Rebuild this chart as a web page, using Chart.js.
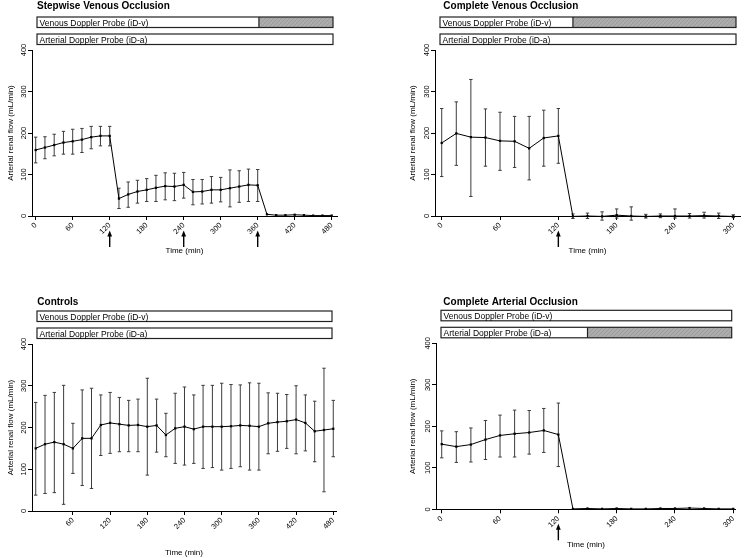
<!DOCTYPE html>
<html><head><meta charset="utf-8">
<script src="https://cdn.jsdelivr.net/npm/chart.js@4.4.1/dist/chart.umd.min.js"></script>
<style>
html,body{margin:0;padding:0;background:#fff;}
#wrap{position:relative;width:745px;height:558px;overflow:hidden;background:#fff;}
canvas{position:absolute;}
</style></head>
<body><div id="wrap">
<canvas id="c1" width="372" height="279" style="left:0px;top:0px;width:372px;height:279px"></canvas>
<canvas id="c2" width="345" height="279" style="left:400px;top:0px;width:345px;height:279px"></canvas>
<canvas id="c3" width="372" height="268" style="left:0px;top:290px;width:372px;height:268px"></canvas>
<canvas id="c4" width="345" height="268" style="left:400px;top:290px;width:345px;height:268px"></canvas>
</div>
<script>
const FONT = "'Liberation Sans', Arial, Helvetica, sans-serif";

// ---- shared labels ----
const yTicks = [0, 100, 200, 300, 400];
const yTitle = 'Arterial renal flow (mL/min)';
const xTitle = 'Time (min)';
const venousLabel = 'Venous Doppler Probe (iD-v)';
const arterialLabel = 'Arterial Doppler Probe (iD-a)';

// ---- Panel 1: Stepwise Venous Occlusion ----
const p1Title = 'Stepwise Venous Occlusion';
const p1Times = [0,15,30,45,60,75,90,105,120,135,150,165,180,195,210,225,240,255,270,285,300,315,330,345,360,375,390,405,420,435,450,465,480];
const p1Mean  = [159,165,171,177,180,184,190,193,193,42,52,59,63,68,72,71,75,58,59,63,63,67,71,75,74,4,2,2,3,2,1,1,1];
const p1Upper = [190,191,197,204,209,211,216,216,216,67,82,86,90,98,104,103,105,88,88,95,93,111,109,113,112,6,3,3,5,3,2,2,2];
const p1Lower = [128,138,145,149,149,153,162,169,169,18,21,31,35,35,39,37,43,27,29,31,34,22,33,35,35,2,1,1,1,1,0,0,0];
const p1XTicks = [0,60,120,180,240,300,360,420,480];
const p1Arrows = [120, 240, 360];
const p1VenousOcc = 362;
const p1ArterialOcc = null;

// ---- Panel 2: Complete Venous Occlusion ----
const p2Title = 'Complete Venous Occlusion';
const p2Times = [0,15,30,45,60,75,90,105,120,135,150,165,180,195,210,225,240,255,270,285,300];
const p2Mean  = [176,199,190,189,181,180,163,188,193,-1,0,-1,2,0,-1,0,0,0,1,0,-1];
const p2Upper = [259,275,329,258,250,240,240,255,259,5,7,10,17,22,4,5,17,6,9,7,3];
const p2Lower = [95,122,47,120,110,117,87,120,127,-6,-6,-10,-5,-10,-5,-4,-5,-5,-5,-6,-4];
const p2XTicks = [0,60,120,180,240,300];
const p2Arrows = [120];
const p2VenousOcc = 135;
const p2ArterialOcc = null;

// ---- Panel 3: Controls ----
const p3Title = 'Controls';
const p3Times = [0,15,30,45,60,75,90,105,120,135,150,165,180,195,210,225,240,255,270,285,300,315,330,345,360,375,390,405,420,435,450,465,480];
const p3Mean  = [150,160,165,160,150,174,174,206,211,208,205,206,202,205,182,198,202,196,202,202,202,203,205,204,202,210,213,215,219,211,191,194,197];
const p3Upper = [260,277,284,301,210,290,294,278,284,272,265,268,318,268,234,282,297,278,301,301,306,303,302,307,306,283,282,279,300,278,263,342,265];
const p3Lower = [38,42,44,16,90,61,54,133,138,142,142,142,86,141,130,114,110,114,102,104,98,102,106,98,98,137,143,150,137,144,118,46,130];
const p3XTicks = [60,120,180,240,300,360,420,480];
const p3Arrows = [];
const p3VenousOcc = null;
const p3ArterialOcc = null;

// ---- Panel 4: Complete Arterial Occlusion ----
const p4Title = 'Complete Arterial Occlusion';
const p4Times = [0,15,30,45,60,75,90,105,120,135,150,165,180,195,210,225,240,255,270,285,300];
const p4Mean  = [157,151,156,168,178,182,185,190,180,1,2,1,2,1,1,2,2,3,2,1,1];
const p4Upper = [189,187,196,214,227,239,238,243,256,1,2,1,2,1,1,2,2,3,2,1,1];
const p4Lower = [124,113,114,120,126,126,133,137,103,1,2,1,2,1,1,2,2,3,2,1,1];
const p4XTicks = [0,60,120,180,240,300];
const p4Arrows = [120];
const p4VenousOcc = null;
const p4ArterialOcc = 150;

// hatch pattern
function makeHatch(ctx) {
  const c = document.createElement('canvas');
  c.width = 4; c.height = 4;
  const g = c.getContext('2d');
  g.fillStyle = '#acacac'; g.fillRect(0, 0, 4, 4);
  g.strokeStyle = '#9c9c9c'; g.lineWidth = 1;
  g.beginPath(); g.moveTo(0, 4); g.lineTo(4, 0); g.stroke();
  return ctx.createPattern(c, 'repeat');
}

function makeChart(id, o) {
  const decor = {
    id: 'decor',
    beforeDatasetsDraw(chart) {
      const ctx = chart.ctx, xs = chart.scales.x, ys = chart.scales.y;
      ctx.save();
      ctx.strokeStyle = '#3c3c3c'; ctx.lineWidth = 1;
      o.times.forEach((t, i) => {
        const x = xs.getPixelForValue(t);
        const yu = ys.getPixelForValue(o.upper[i]);
        const yl = ys.getPixelForValue(o.lower[i]);
        if (Math.abs(yl - yu) < 2) return;
        ctx.beginPath();
        ctx.moveTo(x, yu); ctx.lineTo(x, yl);
        ctx.moveTo(x - 1.7, yu); ctx.lineTo(x + 1.7, yu);
        ctx.moveTo(x - 1.7, yl); ctx.lineTo(x + 1.7, yl);
        ctx.stroke();
      });
      ctx.restore();
    },
    afterDraw(chart) {
      const ctx = chart.ctx, xs = chart.scales.x, ca = chart.chartArea;
      ctx.save();
      // title
      ctx.fillStyle = '#000';
      ctx.font = 'bold 10px ' + FONT;
      ctx.textBaseline = 'alphabetic'; ctx.textAlign = 'left';
      ctx.fillText(o.title, o.titleX, o.titleY);
      // probe bars
      const bl = ca.left + 5, br = ca.right - 4, bh = 10.5;
      const hatch = makeHatch(ctx);
      const bar = (top, label, occ) => {
        ctx.fillStyle = '#fff';
        ctx.fillRect(bl, top, br - bl, bh);
        if (occ !== null) {
          const hx = xs.getPixelForValue(occ);
          ctx.fillStyle = hatch;
          ctx.fillRect(hx, top, br - hx, bh);
          ctx.strokeStyle = '#222'; ctx.lineWidth = 1.2;
          ctx.beginPath(); ctx.moveTo(hx, top); ctx.lineTo(hx, top + bh); ctx.stroke();
        }
        ctx.strokeStyle = '#222'; ctx.lineWidth = 1.2;
        ctx.strokeRect(bl, top, br - bl, bh);
        ctx.fillStyle = '#000';
        ctx.font = '8.5px ' + FONT;
        ctx.fillText(label, bl + 2.6, top + 8.6);
      };
      bar(ca.top - 33, venousLabel, o.venousOcc);
      bar(ca.top - 16, arterialLabel, o.arterialOcc);
      // arrows
      ctx.fillStyle = '#000'; ctx.strokeStyle = '#000'; ctx.lineWidth = 1.4;
      o.arrows.forEach(t => {
        const x = xs.getPixelForValue(t);
        const y0 = ca.bottom + 14.5, y1 = ca.bottom + 31;
        ctx.beginPath(); ctx.moveTo(x, y0 + 4); ctx.lineTo(x, y1); ctx.stroke();
        ctx.beginPath(); ctx.moveTo(x, y0); ctx.lineTo(x - 2.4, y0 + 6); ctx.lineTo(x + 2.4, y0 + 6); ctx.closePath(); ctx.fill();
      });
      ctx.restore();
    }
  };

  return new Chart(document.getElementById(id), {
    type: 'line',
    data: {
      datasets: [{
        data: o.times.map((t, i) => ({ x: t, y: o.mean[i] })),
        borderColor: '#000', borderWidth: 1, tension: 0,
        pointStyle: 'rect', pointRadius: 1.6, pointBackgroundColor: '#000', pointBorderColor: '#000', pointBorderWidth: 0,
        clip: false
      }]
    },
    options: {
      responsive: false, animation: false, events: [],
      layout: { autoPadding: false, padding: { left: 0, right: o.padR, top: o.padT, bottom: o.padB } },
      plugins: { legend: { display: false }, tooltip: { enabled: false }, title: { display: false } },
      scales: {
        x: {
          type: 'linear', min: o.xmin, max: o.xmax,
          afterBuildTicks: s => { s.ticks = o.xTicks.map(v => ({ value: v })); },
          afterFit: s => { s.height = o.xH; s.paddingLeft = 0; s.paddingRight = 0; },
          grid: { drawOnChartArea: false, drawTicks: true, tickLength: 4, color: '#000', lineWidth: 1 },
          border: { display: true, color: '#000', width: 1 },
          ticks: { autoSkip: false, minRotation: 45, maxRotation: 45, padding: 1, color: '#000', font: { family: FONT, size: 7.5 } },
          title: { display: true, text: xTitle, color: '#000', font: { family: FONT, size: 8 }, padding: { top: 0, bottom: 0 } }
        },
        y: {
          type: 'linear', min: 0, max: 400,
          afterBuildTicks: s => { s.ticks = yTicks.map(v => ({ value: v })); },
          afterFit: s => { s.width = o.yW; s.paddingTop = 0; s.paddingBottom = 0; },
          grid: { drawOnChartArea: false, drawTicks: true, tickLength: 4, color: '#000', lineWidth: 1 },
          border: { display: true, color: '#000', width: 1 },
          ticks: { minRotation: 90, maxRotation: 90, crossAlign: 'center', padding: -1.75, color: '#000', font: { family: FONT, size: 7.5 } },
          title: { display: true, text: yTitle, color: '#000', font: { family: FONT, size: 8 }, padding: { top: o.yTitlePad, bottom: 0 } }
        }
      }
    },
    plugins: [decor]
  });
}

makeChart('c1', { title: p1Title, titleX: 37, titleY: 8.5, times: p1Times, mean: p1Mean, upper: p1Upper, lower: p1Lower,
  xTicks: p1XTicks, arrows: p1Arrows, venousOcc: p1VenousOcc, arterialOcc: p1ArterialOcc,
  xmin: -6.0, xmax: 488.6, padR: 35, padT: 50, padB: 23.5, xH: 39.5, yW: 32, yTitlePad: 6.2 });
makeChart('c2', { title: p2Title, titleX: 43.3, titleY: 8.5, times: p2Times, mean: p2Mean, upper: p2Upper, lower: p2Lower,
  xTicks: p2XTicks, arrows: p2Arrows, venousOcc: p2VenousOcc, arterialOcc: p2ArterialOcc,
  xmin: -6.9, xmax: 306.9, padR: 5, padT: 50, padB: 23.5, xH: 39.5, yW: 35, yTitlePad: 7.9 });
makeChart('c3', { title: p3Title, titleX: 37.3, titleY: 15, times: p3Times, mean: p3Mean, upper: p3Upper, lower: p3Lower,
  xTicks: p3XTicks, arrows: p3Arrows, venousOcc: p3VenousOcc, arterialOcc: p3ArterialOcc,
  xmin: -6.0, xmax: 484.4, padR: 36, padT: 54, padB: 0.2, xH: 46.8, yW: 32, yTitlePad: 6.2 });
makeChart('c4', { title: p4Title, titleX: 43.3, titleY: 15, times: p4Times, mean: p4Mean, upper: p4Upper, lower: p4Lower,
  xTicks: p4XTicks, arrows: p4Arrows, venousOcc: p4VenousOcc, arterialOcc: p4ArterialOcc,
  xmin: -5.9, xmax: 302.5, padR: 9.3, padT: 53.3, padB: 8.2, xH: 40.5, yW: 36, yTitlePad: 7.9 });
</script>
</body></html>
